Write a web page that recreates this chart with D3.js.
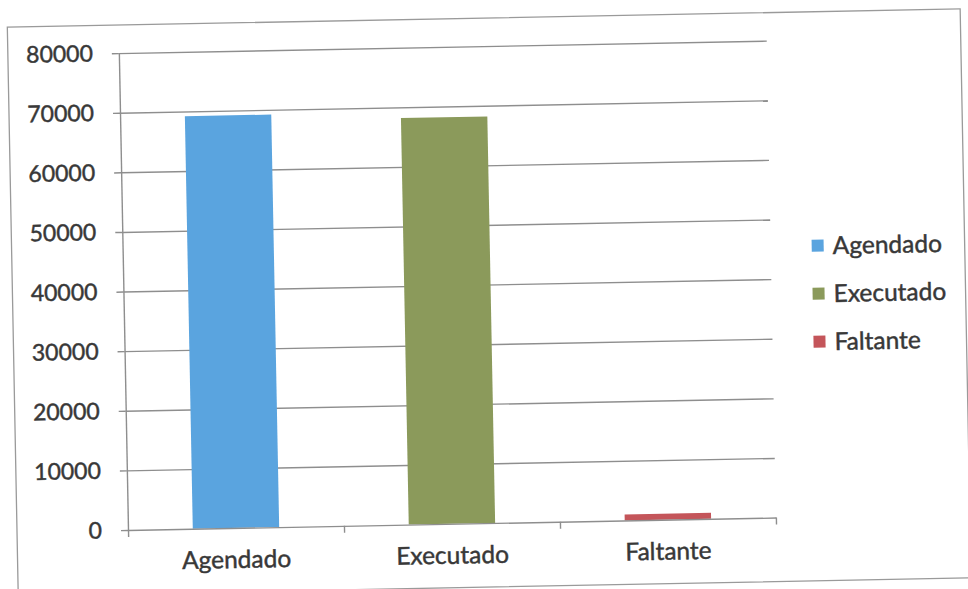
<!DOCTYPE html>
<html>
<head>
<meta charset="utf-8">
<script src="https://cdn.jsdelivr.net/npm/d3@7"></script>
<style>
  html, body { margin: 0; padding: 0; background: #fff; }
  svg { display: block; }
</style>
</head>
<body>
<svg id="chart" width="968" height="589"></svg>
<script>
// values
const categories = ["Agendado", "Executado", "Faltante"];
const values = [69200, 68200, 1000];
const yTicks = [0, 10000, 20000, 30000, 40000, 50000, 60000, 70000, 80000];
const colors = ["#5aa4df", "#8b9a5b", "#c4555a"];

const W = 968, H = 589;
const margins = { left: 128, right: 776, top: 53, bottom: 530 };
const tilt = -1.1; // the scan is slightly rotated
const font = "Lato, 'Open Sans', sans-serif";
const textColor = "#383838";
const lineColor = "#8e8e8e";

const svg = d3.select("#chart");
svg.append("rect").attr("width", W).attr("height", H).attr("fill", "#fff");

const g = svg.append("g")
    .attr("transform", `rotate(${tilt},${margins.left},${margins.bottom})`);

// outer chart frame
g.append("rect")
    .attr("x", 17).attr("y", 25)
    .attr("width", 953).attr("height", 569)
    .attr("fill", "none")
    .attr("stroke", "#9a9a9a")
    .attr("stroke-width", 1.3);

const yScale = d3.scaleLinear().domain([0, 80000]).range([margins.bottom, margins.top]);
const xScale = d3.scaleBand()
    .domain(categories)
    .range([margins.left, margins.right])
    .paddingInner(0.6)
    .paddingOuter(0.3);
// category boundaries, for the tick marks between categories
const xEdges = d3.scaleLinear().domain([0, categories.length]).range([margins.left, margins.right]);

// thicker look of the scanned text
const styleText = (sel, size) => sel
    .attr("font-family", font)
    .attr("font-size", size)
    .attr("fill", textColor)
    .attr("stroke", textColor)
    .attr("stroke-width", 0.45);

// gridlines
g.append("g")
    .attr("class", "grid")
    .attr("transform", `translate(${margins.left},0)`)
    .call(d3.axisLeft(yScale).tickValues(yTicks.slice(1)).tickSize(-(margins.right - margins.left)).tickFormat(""))
    .call((s) => s.select(".domain").remove())
    .selectAll("line")
    .attr("stroke", lineColor)
    .attr("stroke-width", 1.4);

// bars
g.append("g")
    .attr("class", "bars")
    .selectAll("rect")
    .data(values)
    .join("rect")
    .attr("x", (d, i) => xScale(categories[i]))
    .attr("y", (d) => yScale(d))
    .attr("width", xScale.bandwidth())
    .attr("height", (d) => yScale(0) - yScale(d))
    .attr("fill", (d, i) => colors[i]);

// y axis
const yAxis = g.append("g")
    .attr("class", "y-axis")
    .attr("transform", `translate(${margins.left},0)`)
    .call(d3.axisLeft(yScale).tickValues(yTicks).tickSize(7).tickPadding(19).tickSizeOuter(0).tickFormat(d3.format("d")));
yAxis.selectAll("line, path").attr("stroke", lineColor).attr("stroke-width", 1.4);
yAxis.selectAll("text").call(styleText, 23);

// x axis: line and boundary ticks
const xTicks = g.append("g")
    .attr("class", "x-axis")
    .attr("transform", `translate(0,${margins.bottom})`)
    .call(d3.axisBottom(xEdges).tickValues(d3.range(categories.length + 1)).tickSize(7).tickSizeOuter(0).tickFormat(""));
xTicks.selectAll("line, path").attr("stroke", lineColor).attr("stroke-width", 1.4);

// x axis: category labels
const xLabels = g.append("g")
    .attr("class", "x-labels")
    .attr("transform", `translate(0,${margins.bottom})`)
    .call(d3.axisBottom(xScale).tickSize(0));
xLabels.select(".domain").remove();
xLabels.selectAll("text")
    .attr("y", 40)
    .attr("dy", null)
    .call(styleText, 24.5);

// legend
const legend = g.append("g")
    .attr("class", "legend")
    .selectAll("g")
    .data(categories)
    .join("g")
    .attr("transform", (d, i) => `translate(817,${259 + i * 48})`);
legend.append("rect")
    .attr("x", 0).attr("y", -6)
    .attr("width", 12).attr("height", 12)
    .attr("fill", (d, i) => colors[i]);
legend.append("text")
    .attr("x", 21)
    .attr("dy", "0.35em")
    .text((d) => d)
    .call(styleText, 24.5);
</script>
</body>
</html>
